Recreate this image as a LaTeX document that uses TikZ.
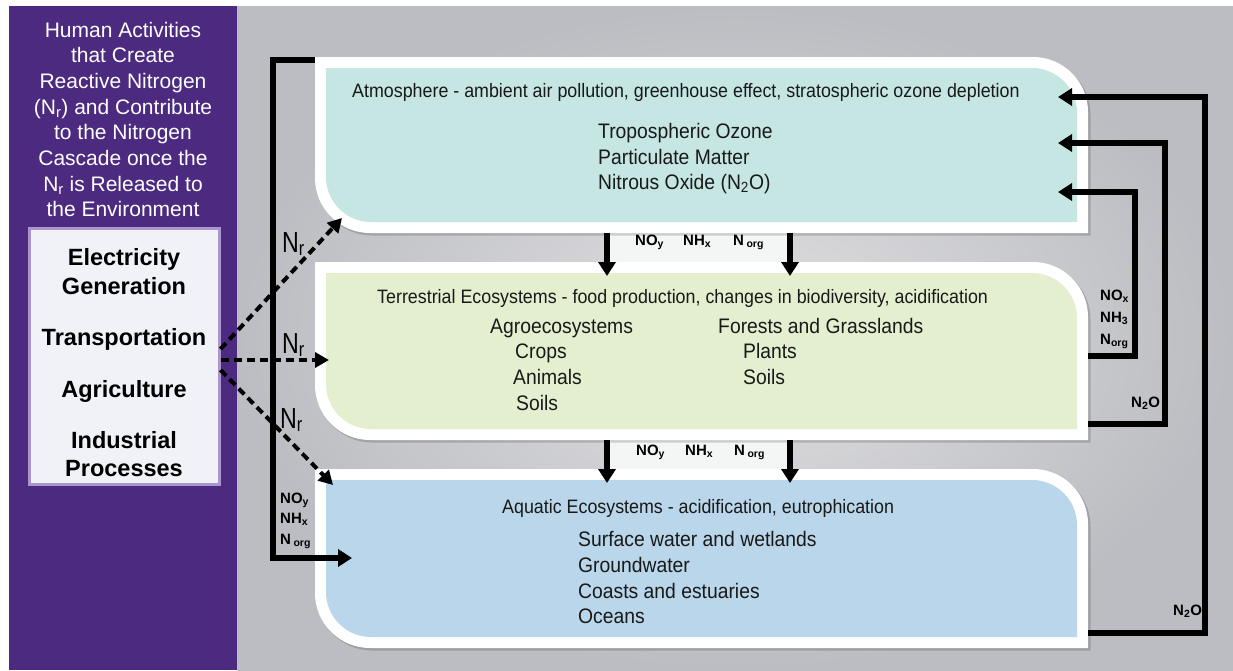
\documentclass[tikz,border=0pt]{standalone}
\usepackage{fontspec}
\setmainfont{Liberation Sans}
\newfontfamily\boxfont[FakeStretch=0.92]{Liberation Sans}
\newfontfamily\nrfont[FakeStretch=0.8]{Liberation Sans}
\usetikzlibrary{arrows.meta}

\definecolor{panelpurple}{RGB}{76,42,128}
\definecolor{bgout}{RGB}{188,189,194}
\definecolor{bgin}{RGB}{224,224,226}
\definecolor{atmfill}{RGB}{197,230,227}
\definecolor{terfill}{RGB}{228,239,208}
\definecolor{aqufill}{RGB}{186,214,234}
\definecolor{actfill}{RGB}{241,242,248}
\definecolor{actglow}{RGB}{170,150,205}
\definecolor{stripfill}{RGB}{244,245,245}
\definecolor{boxtext}{RGB}{25,25,25}

% leaf shaped box: square top-left and bottom-right, round top-right and bottom-left
\newcommand\leafpath[5]{(#1,#2) -- ({#3-#5},#2) .. controls ({#3-0.448*#5},#2) and (#3,{#2+0.448*#5}) .. (#3,{#2+#5}) -- (#3,#4) -- ({#1+#5},#4) .. controls ({#1+0.448*#5},#4) and (#1,{#4-0.448*#5}) .. (#1,{#4-#5}) -- cycle}

\begin{document}
\begin{tikzpicture}[x=1pt,y=-1pt,
  flow/.style={line width=5.5pt,-{Triangle[length=14pt,width=17pt]}},
  nrflow/.style={line width=4pt,dash pattern=on 8pt off 5pt,-{Triangle[length=14pt,width=15pt]}},
  panel/.style={font=\fontsize{21}{25.7}\selectfont,text=white,align=center,inner sep=0pt},
  actbox/.style={draw=actglow,line width=3pt,fill=actfill,minimum width=190pt,minimum height=256pt,inner sep=0pt},
  activity/.style={font=\bfseries\fontsize{23.5}{28.5}\selectfont,align=center,inner sep=0pt},
  boxtitle/.style={font=\boxfont\fontsize{19.4}{22}\selectfont,text=boxtext,anchor=base west,inner sep=0pt},
  boxitem/.style={font=\boxfont\fontsize{21}{25}\selectfont,text=boxtext,anchor=base west,inner sep=0pt},
  species/.style={font=\bfseries\fontsize{15}{17}\selectfont,anchor=base west,inner sep=0pt},
  nrlabel/.style={font=\nrfont\fontsize{29}{32}\selectfont,anchor=base west,inner sep=0pt}]

% background
\fill[white] (0,0) rectangle (1233,670);
\shade[inner color=bgin,outer color=bgout] (237,6) rectangle (1233,670);
\fill[panelpurple] (9,6) rectangle (237,670);

% light strips between the boxes
\fill[stripfill] (605,225) rectangle (790,266);
\fill[stripfill] (605,432) rectangle (790,473);

% the three compartments
\foreach \ya/\yb/\col in {57/233/atmfill,262/440/terfill,469/648/aqufill}{
  \fill[black,opacity=.16] \leafpath{317}{\ya+2.5}{1090.5}{\yb+2.5}{55};
  \fill[white] \leafpath{315}{\ya}{1088}{\yb}{55};
  \fill[\col] \leafpath{326}{\ya+11}{1077}{\yb-11}{45};
}

% left panel
\node[panel] (intro) at (123,119.5) {Human Activities\\that Create\\Reactive Nitrogen\\(N\textsubscript{r}) and Contribute\\to the Nitrogen\\Cascade once the\\N\textsubscript{r} is Released to\\the Environment};
\node[actbox] (act) at (124,356) {};
\node[activity] (elec) at (124,271.6) {Electricity\\Generation};
\node[activity,anchor=base] (trans) at (124,345) {Transportation};
\node[activity,anchor=base] (agri) at (124,397) {Agriculture};
\node[activity] (indus) at (124,454) {Industrial\\Processes};

% compartment texts
\node[boxtitle] (atm title) at (352,97) {Atmosphere - ambient air pollution, greenhouse effect, stratospheric ozone depletion};
\node[boxitem] (tropo) at (598,138) {Tropospheric Ozone};
\node[boxitem] (pm) at (598,164) {Particulate Matter};
\node[boxitem] (n2o) at (598,189) {Nitrous Oxide (N\textsubscript{2}O)};

\node[boxtitle] (ter title) at (377,303) {Terrestrial Ecosystems - food production, changes in biodiversity, acidification};
\node[boxitem] (agro) at (490,333) {Agroecosystems};
\node[boxitem] (crops) at (515,358) {Crops};
\node[boxitem] (animals) at (513,384) {Animals};
\node[boxitem] (agro soils) at (516,410) {Soils};
\node[boxitem] (forests) at (718,333) {Forests and Grasslands};
\node[boxitem] (plants) at (743,358) {Plants};
\node[boxitem] (forest soils) at (743,384) {Soils};

\node[boxtitle] (aqu title) at (502,513) {Aquatic Ecosystems - acidification, eutrophication};
\node[boxitem] (surface) at (578,546) {Surface water and wetlands};
\node[boxitem] (ground) at (578,572) {Groundwater};
\node[boxitem] (coasts) at (578,598) {Coasts and estuaries};
\node[boxitem] (oceans) at (578,623) {Oceans};

% exchange between compartments
\coordinate (atm d1) at (607,233); \coordinate (ter u1) at (607,276);
\coordinate (atm d2) at (790,233); \coordinate (ter u2) at (790,276);
\coordinate (ter d1) at (607,440); \coordinate (aqu u1) at (607,483);
\coordinate (ter d2) at (790,440); \coordinate (aqu u2) at (790,483);
\draw[flow] (atm d1) -- (ter u1);
\draw[flow] (atm d2) -- (ter u2);
\draw[flow] (ter d1) -- (aqu u1);
\draw[flow] (ter d2) -- (aqu u2);
\node[species] (noy1) at (635,245) {NO\textsubscript{y}};
\node[species] (nhx1) at (683,245) {NH\textsubscript{x}};
\node[species] (norg1) at (733,245) {N\,\textsubscript{org}};
\node[species] (noy2) at (636,455) {NO\textsubscript{y}};
\node[species] (nhx2) at (685,455) {NH\textsubscript{x}};
\node[species] (norg2) at (734,455) {N\,\textsubscript{org}};

% left trunk down to the waters
\coordinate (trunk top) at (315,60);
\coordinate (trunk foot) at (273,558);
\coordinate (aqu in) at (352,558);
\draw[flow] (trunk top) -| (trunk foot) -- (aqu in);
\node[species] (noy3) at (280,503) {NO\textsubscript{y}};
\node[species] (nhx3) at (280,523) {NH\textsubscript{x}};
\node[species] (norg3) at (280,544) {N\,\textsubscript{org}};

% releases of reactive nitrogen
\coordinate (nr atm) at (342,218);
\coordinate (nr ter) at (329,360);
\coordinate (nr aqu) at (333,485);
\draw[nrflow] ([yshift=7pt]act.east) -- (nr atm);
\draw[nrflow] ([yshift=-4pt]act.east) -- (nr ter);
\draw[nrflow] ([yshift=-14pt]act.east) -- (nr aqu);
\node[nrlabel] (nr1) at (282,252) {N\textsubscript{r}};
\node[nrlabel] (nr2) at (282,353) {N\textsubscript{r}};
\node[nrlabel] (nr3) at (280,428) {N\textsubscript{r}};

% returns to the atmosphere
\coordinate (ter out1) at (1088,356); \coordinate (rise1) at (1135,192); \coordinate (atm in1) at (1058,192);
\coordinate (ter out2) at (1088,424); \coordinate (rise2) at (1165,143); \coordinate (atm in2) at (1058,143);
\coordinate (aqu out) at (1088,633); \coordinate (rise3) at (1205,97); \coordinate (atm in3) at (1058,97);
\draw[flow] (ter out1) -| (rise1) -- (atm in1);
\draw[flow] (ter out2) -| (rise2) -- (atm in2);
\draw[flow] (aqu out) -| (rise3) -- (atm in3);
\node[species] (nox) at (1100,300) {NO\textsubscript{x}};
\node[species] (nh3) at (1100,322) {NH\textsubscript{3}};
\node[species] (norg4) at (1100,344) {N\textsubscript{org}};
\node[species] (n2o ter) at (1131,407) {N\textsubscript{2}O};
\node[species] (n2o aqu) at (1173,615) {N\textsubscript{2}O};
\end{tikzpicture}
\end{document}
